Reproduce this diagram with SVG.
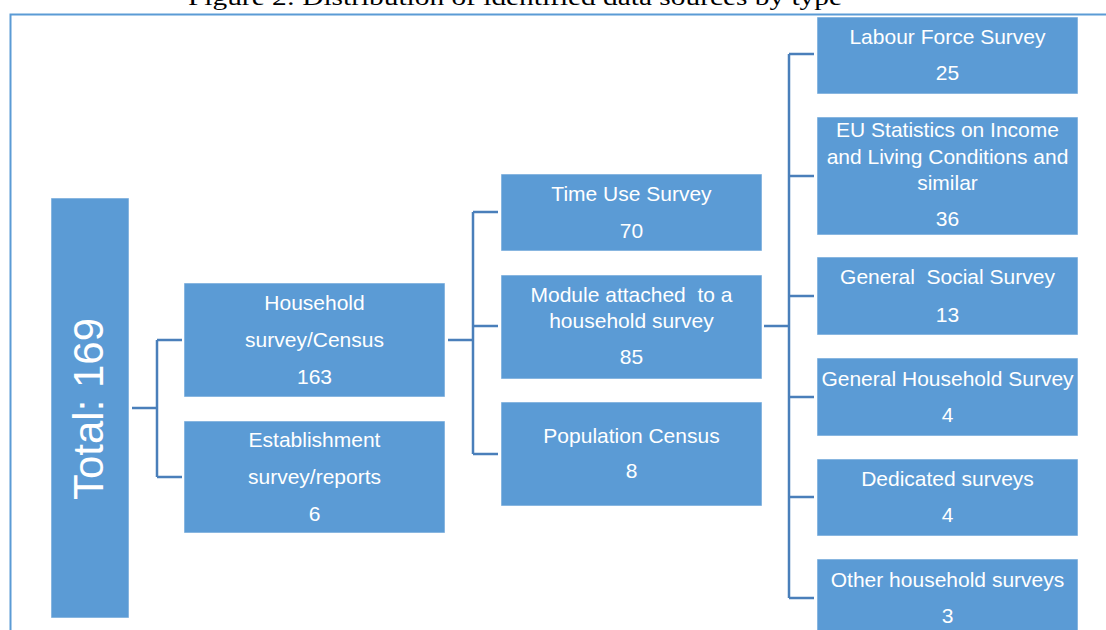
<svg xmlns="http://www.w3.org/2000/svg" width="1106" height="630" viewBox="0 0 1106 630">
<style>
.box{fill:#5B9BD5;stroke:#ffffff;stroke-opacity:0.55;stroke-width:1}
.t{font-family:"Liberation Sans",Arial,sans-serif;font-size:21px;fill:#ffffff;text-anchor:middle;white-space:pre}
.c{fill:none;stroke:#4A7FBA;stroke-width:2.5}
</style>
<rect width="1106" height="630" fill="#ffffff"/>
<text x="515" y="5" font-family="'Liberation Serif','Times New Roman',serif" font-size="24" fill="#000" text-anchor="middle" textLength="654" lengthAdjust="spacingAndGlyphs">Figure 2: Distribution of identified data sources by type</text>
<path d="M10.5 630 V14.5 H1106" fill="none" stroke="#5B9BD5" stroke-width="2"/>
<g id="connectors">
<path class="c" d="M132 408 H157 M157 340 V477 M157 340 H182 M157 477 H182"/>
<path class="c" d="M448 340 H473 M473 212 V454 M473 212 H498 M473 326 H498 M473 454 H498"/>
<path class="c" d="M764 326 H789 M789 54 V598 M789 54 H814 M789 176 H814 M789 296 H814 M789 397 H814 M789 497 H814 M789 598 H814"/>
</g>
<g id="total"><rect class="box" x="51" y="198" width="78" height="420"/><text class="t" transform="translate(103,409) rotate(-90)" style="font-size:42px">Total: 169</text></g>
<g id="household"><rect class="box" x="184" y="283" width="261" height="114"/><text class="t" x="314.5" y="310">Household</text><text class="t" x="314.5" y="347">survey/Census</text><text class="t" x="314.5" y="384">163</text></g>
<g id="establishment"><rect class="box" x="184" y="421" width="261" height="112"/><text class="t" x="314.5" y="447">Establishment</text><text class="t" x="314.5" y="484">survey/reports</text><text class="t" x="314.5" y="521">6</text></g>
<g id="timeuse"><rect class="box" x="501" y="174" width="261" height="77"/><text class="t" x="631.5" y="201">Time Use Survey</text><text class="t" x="631.5" y="238">70</text></g>
<g id="module"><rect class="box" x="501" y="275" width="261" height="104"/><text class="t" x="631.5" y="302">Module attached  to a</text><text class="t" x="631.5" y="328">household survey</text><text class="t" x="631.5" y="364">85</text></g>
<g id="population"><rect class="box" x="501" y="402" width="261" height="104"/><text class="t" x="631.5" y="443">Population Census</text><text class="t" x="631.5" y="478">8</text></g>
<g id="lfs"><rect class="box" x="817" y="17" width="261" height="77"/><text class="t" x="947.5" y="44">Labour Force Survey</text><text class="t" x="947.5" y="80">25</text></g>
<g id="eusilc"><rect class="box" x="817" y="117" width="261" height="118"/><text class="t" x="947.5" y="137">EU Statistics on Income</text><text class="t" x="947.5" y="164">and Living Conditions and</text><text class="t" x="947.5" y="190">similar</text><text class="t" x="947.5" y="226">36</text></g>
<g id="gss"><rect class="box" x="817" y="257" width="261" height="78"/><text class="t" x="947.5" y="284">General  Social Survey</text><text class="t" x="947.5" y="322">13</text></g>
<g id="ghs"><rect class="box" x="817" y="358" width="261" height="78"/><text class="t" x="947.5" y="386">General Household Survey</text><text class="t" x="947.5" y="422">4</text></g>
<g id="dedicated"><rect class="box" x="817" y="459" width="261" height="77"/><text class="t" x="947.5" y="486">Dedicated surveys</text><text class="t" x="947.5" y="522">4</text></g>
<g id="other"><rect class="box" x="817" y="559" width="261" height="80"/><text class="t" x="947.5" y="587">Other household surveys</text><text class="t" x="947.5" y="623">3</text></g>
</svg>
